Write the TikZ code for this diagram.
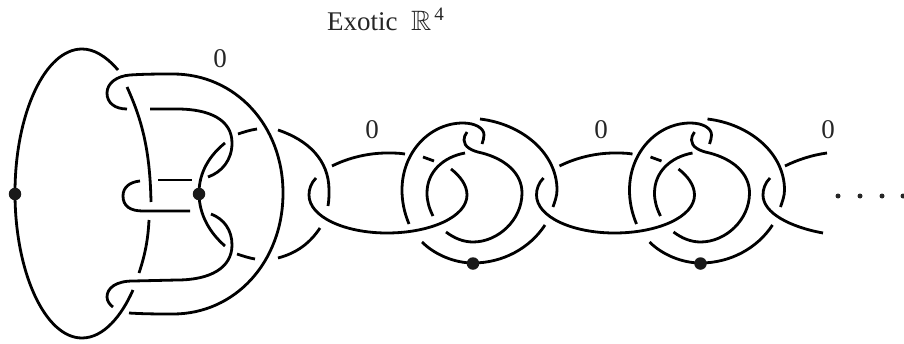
\documentclass[tikz,border=0pt]{standalone}
\usepackage{amssymb}
\usepackage{fontspec}
\setmainfont{Liberation Serif}
\tikzset{
  strand/.style={line width=2.8pt,line cap=butt},
  knotdot/.style={circle,fill=black!90,inner sep=0pt,minimum size=12.5pt},
  smalldot/.style={circle,fill=black!85,inner sep=0pt,minimum size=5pt},
  framing/.style={font=\fontsize{27}{29}\selectfont,text=black!85,inner sep=0pt}
}
\begin{document}
\begin{tikzpicture}[x=1pt,y=-1pt]
\useasboundingbox (0,0) rectangle (904,343);
\node[framing,anchor=base west] (title) at (327,30) {Exotic\ \ {\fontsize{28}{28}\selectfont$\mathbb{R}$}\kern3pt\raisebox{10pt}{\fontsize{19}{19}\selectfont 4}};
\node[framing] (zeroA) at (220,59) {0};
\node[framing] (zeroB) at (372,130) {0};
\node[framing] (zeroC) at (601,130) {0};
\node[framing] (zeroD) at (828,130) {0};
% left ellipse
\draw[strand] (118,70) .. controls (105,55) and (93,49) .. (82,49) .. controls (45,49) and (15,114) .. (15,193) .. controls (15,272) and (45,338) .. (82,338) .. controls (104,338) and (122,315) .. (133,290);
% outer framed band
\draw[strand] (127,109) .. controls (115,109) and (107,103) .. (107,93) .. controls (107,83) and (117,76) .. (130,75) .. controls (145,74) and (160,74) .. (173,74) .. controls (235,74) and (283,125) .. (283,193) .. controls (283,262) and (235,314) .. (173,314) .. controls (160,314) and (145,314) .. (129,313);
% inner band
\draw[strand] (150,109) -- (177,109) .. controls (210,109) and (232,120) .. (232,143) .. controls (232,160) and (222,172) .. (208,177);
\draw[strand] (211,214) .. controls (224,219) and (232,230) .. (232,245) .. controls (232,268) and (210,280) .. (177,280) -- (133,281) .. controls (116,281) and (107,288) .. (107,297) .. controls (107,301) and (110,305) .. (113,307);
% vertical strand
\draw[strand] (127,87) .. controls (142,120) and (150,150) .. (151,202);
\draw[strand] (149,220) .. controls (148,240) and (145,255) .. (139,273);
% hook
\draw[strand] (140,181) .. controls (130,182) and (123,187) .. (123,196) .. controls (123,206) and (130,211) .. (143,211) -- (190,211);
\draw[strand] (158,180) -- (192,180);
% curve through dot
\draw[strand] (225,143) .. controls (210,155) and (199,172) .. (199,193) .. controls (199,215) and (210,233) .. (225,246);
\draw[strand] (238,134) .. controls (244,132) and (250,130) .. (257,129);
\draw[strand] (237,254) .. controls (243,256) and (249,258) .. (255,259);
\node[knotdot] (dotA) at (15,194) {};
\node[knotdot] (dotB) at (199,194) {};
% first arc out of the band
\draw[strand] (278,130) .. controls (308,140) and (329,160) .. (329,190) .. controls (329,196) and (329,200) .. (328,206);
\draw[strand] (278,258) .. controls (297,253) and (310,243) .. (320,228);
% repeated links
\foreach \i/\dx in {1/0,2/227.5}{
\begin{scope}[xshift=\dx pt]
\draw[strand] (316,178) .. controls (311,183) and (309,189) .. (309,195) .. controls (309,217) and (345,233) .. (387,233) .. controls (430,233) and (467,217) .. (467,195) .. controls (467,185) and (460,176) .. (451,169);
\draw[strand] (332,166) .. controls (350,157) and (370,153) .. (387,153) .. controls (393,153) and (399,153) .. (405,154);
\draw[strand] (423,157) -- (434,161);
\draw[strand] (409,224) .. controls (404,212) and (402,201) .. (402,190) .. controls (402,152) and (430,123) .. (463,123) .. controls (475,123) and (484,128) .. (484,135) .. controls (484,138) and (483,141) .. (482,144);
\draw[strand] (467,132) .. controls (465,135) and (464,137) .. (464,140) .. controls (464,147) and (472,151) .. (482,153) .. controls (505,159) and (522,173) .. (522,193) .. controls (522,220) and (498,242) .. (473,242) .. controls (463,242) and (454,238) .. (446,232);
\draw[strand] (465,153) .. controls (443,157) and (427,172) .. (427,193) .. controls (427,201) and (429,208) .. (433,216);
\draw[strand] (480,119) .. controls (522,124) and (557,153) .. (557,190) .. controls (557,196) and (555,201) .. (553,207);
\draw[strand] (422,242) .. controls (435,255) and (455,263) .. (473,263) .. controls (503,263) and (530,248) .. (545,225);
\node[knotdot] (dotL\i) at (473,263.5) {};
\end{scope}
}
% last partial link
\draw[strand] (770,178) .. controls (765,183) and (763,189) .. (763,195) .. controls (763,213) and (790,227) .. (823,233);
\draw[strand] (785,166) .. controls (797,160) and (812,155) .. (827,153);
% ellipsis
\node[smalldot] (dotsA) at (838,196) {};
\node[smalldot] (dotsB) at (860,196) {};
\node[smalldot] (dotsC) at (882,196) {};
\node[smalldot] (dotsD) at (903,196) {};
\end{tikzpicture}
\end{document}
